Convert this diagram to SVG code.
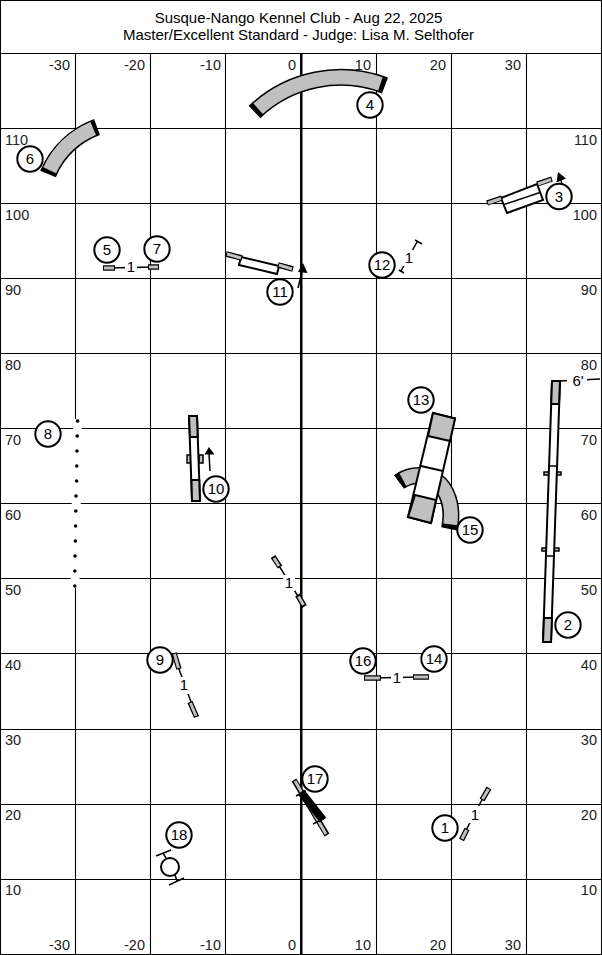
<svg xmlns="http://www.w3.org/2000/svg" width="602" height="955" viewBox="0 0 602 955">
<style>
text{font-family:"Liberation Sans",Arial,sans-serif;font-size:15px;fill:#000}
#labels text{font-size:14.5px;fill:#222}
.m{text-anchor:middle}.e{text-anchor:end}
.g{stroke:#000;stroke-width:1.1;fill:none}
.o{stroke:#000;stroke-width:2;fill:#fff}
.b{stroke:#000;stroke-width:2;fill:#c0c0c0}
.bar{stroke:#000;stroke-width:5.500;fill:none}
.barg{stroke:#c0c0c0;stroke-width:3;fill:none}
.tb{stroke:#000;stroke-width:17;fill:none}
.tg{stroke:#c0c0c0;stroke-width:14;fill:none}
.n{stroke:#000;stroke-width:2;fill:#fff}
.l{stroke:#000;stroke-width:1.5;fill:none}
.w{fill:#fff;stroke:none}
</style>
<rect width="602" height="955" fill="#fff"/>
<g id="grid">
<path class="g" d="M75.500 53V955M150.500 53V955M225.500 53V955M376.500 53V955M451.500 53V955M526.500 53V955M0 53.500H602M0 128.500H602M0 203.500H602M0 278.500H602M0 353.500H602M0 428.500H602M0 503.500H602M0 578.500H602M0 653.500H602M0 729.500H602M0 804.500H602M0 879.500H602"/>
<path d="M301.250 53V955" stroke="#000" stroke-width="2.500" fill="none"/>
<rect x=".5" y=".5" width="601" height="954" fill="none" stroke="#000"/>
</g>
<g id="title">
<text class="m" x="298.500" y="23">Susque-Nango Kennel Club - Aug 22, 2025</text>
<text class="m" x="298.500" y="40">Master/Excellent Standard - Judge: Lisa M. Selthofer</text>
</g>
<g id="labels">
<text class="e" x="70" y="70">-30</text><text class="e" x="145" y="70">-20</text><text class="e" x="221" y="70">-10</text><text class="e" x="296" y="70">0</text><text class="e" x="371" y="70">10</text><text class="e" x="446" y="70">20</text><text class="e" x="521" y="70">30</text>
<text class="e" x="70" y="950">-30</text><text class="e" x="145" y="950">-20</text><text class="e" x="221" y="950">-10</text><text class="e" x="296" y="950">0</text><text class="e" x="371" y="950">10</text><text class="e" x="446" y="950">20</text><text class="e" x="521" y="950">30</text>
<text x="5" y="145">110</text><text x="5" y="220">100</text><text x="5" y="295">90</text><text x="5" y="370">80</text><text x="5" y="445">70</text><text x="5" y="520">60</text><text x="5" y="595">50</text><text x="5" y="670">40</text><text x="5" y="745">30</text><text x="5" y="820">20</text><text x="5" y="895">10</text>
<text class="e" x="597" y="145">110</text><text class="e" x="597" y="220">100</text><text class="e" x="597" y="295">90</text><text class="e" x="597" y="370">80</text><text class="e" x="597" y="445">70</text><text class="e" x="597" y="520">60</text><text class="e" x="597" y="595">50</text><text class="e" x="597" y="670">40</text><text class="e" x="597" y="745">30</text><text class="e" x="597" y="820">20</text><text class="e" x="597" y="895">10</text>
</g>
<g id="connectors"></g>
<g id="tunnel-4"><path class="tb" d="M254.500 112A125 125 0 0 1 385 85.500"/><path class="tg" stroke-dasharray="0 3.500 93 100" pathLength="100" d="M254.500 112A125 125 0 0 1 385 85.500"/><circle class="n" cx="370" cy="105" r="12.700"/><text class="m" x="370" y="110">4</text></g>
<g id="tunnel-6"><path class="tb" d="M48 174A85 85 0 0 1 97 127"/><path class="tg" stroke-dasharray="0 6 88 100" pathLength="100" d="M48 174A85 85 0 0 1 97 127"/><circle class="n" cx="30" cy="159" r="12.700"/><text class="m" x="30" y="164">6</text></g>
<g id="weave-8">
<path d="M77.500 419L75 588" stroke="#fff" stroke-width="9" fill="none"/>
<g fill="#000"><circle cx="77.600" cy="421" r="1.800"/><circle cx="77.200" cy="436" r="1.800"/><circle cx="77" cy="451" r="1.800"/><circle cx="76.800" cy="466" r="1.800"/><circle cx="76.600" cy="481" r="1.800"/><circle cx="76" cy="496" r="1.800"/><circle cx="75.800" cy="511" r="1.800"/><circle cx="75.600" cy="526" r="1.800"/><circle cx="75.400" cy="541" r="1.800"/><circle cx="75" cy="556" r="1.800"/><circle cx="74.800" cy="571" r="1.800"/><circle cx="74.800" cy="586" r="1.800"/></g>
<circle class="n" cx="48" cy="434" r="12.700"/><text class="m" x="48" y="439">8</text></g>
<g id="tunnel-15"><path class="tb" d="M399 482C410 474 428 472 440 484C450 495 453 512 449.500 529"/><path class="tg" stroke-dasharray="0 5 90 100" pathLength="100" d="M399 482C410 474 428 472 440 484C450 495 453 512 449.500 529"/><circle class="n" cx="470" cy="530" r="12.700"/><text class="m" x="470" y="535">15</text></g>
<g id="aframe-13">
<polygon class="o" points="433,413 455,418.500 431,523 408,517"/>
<polygon class="b" points="433,413 455,418.500 450,441 428,436"/>
<polygon class="b" points="415,495 436,500 431,523 408,517"/>
<path class="o" d="M421 466L443 471"/>
<circle class="n" cx="421" cy="400" r="12.700"/><text class="m" x="421" y="405">13</text></g>
<g id="dogwalk-2">
<rect class="b" style="stroke-width:1.5" x="544" y="472" width="17" height="3"/><rect class="b" style="stroke-width:1.5" x="542" y="548" width="17" height="3"/>
<polygon class="o" points="552,381 560,381 551,642 543,642"/>
<polygon class="b" points="552,381 560,381 559,404 551.200,404"/>
<polygon class="b" points="544,618 552,618 551,642 543,642"/>
<path class="l" d="M550 466H558M547 556H555"/>
<path class="l" d="M560 381L600 379"/><rect class="w" x="567" y="372" width="20" height="16"/><text class="m" x="578" y="386">6'</text>
<circle class="n" cx="568" cy="625" r="12.700"/><text class="m" x="568" y="630">2</text></g>
<g id="tire-18"><circle class="n" cx="170" cy="867" r="9"/><path class="l" d="M156 856L171 850M163 853L166 858M169 885L184 878M175 875L177 881"/><circle class="n" cx="179" cy="835" r="12.700"/><text class="m" x="179" y="840">18</text></g>
<g id="wall-11"><polygon class="o" points="241,257 279,266 277,274 239,265"/><path class="bar" d="M226 254L242 258M278 265L293 269"/><path class="barg" d="M227 254L241 258M279 265L292 269"/><path class="l" d="M298 288L302 272"/><polygon points="303,263 307.500,273 298,272"/><circle class="n" cx="280" cy="292" r="12.700"/><text class="m" x="280" y="297">11</text></g>
<g id="wall-3"><path class="l" d="M563 190L561 180"/><polygon points="558,172 566,178.500 556.500,182.500"/><polygon class="o" points="501,198 537,184 543,200 507,213"/><path class="l" d="M504 204.500L540 192.500"/><path class="bar" d="M487 203L502 198M537 184L552 179"/><path class="barg" d="M488 203L501 198.500M538 184L551 179.500"/><circle class="n" cx="559" cy="196.500" r="12.700"/><text class="m" x="559" y="201.500">3</text></g>
<g id="jump-5-7"><path class="l" d="M109 268L153 267"/><rect class="w" x="125" y="258" width="12" height="18"/><text class="m" x="131" y="272">1</text><path class="bar" d="M103 268H115M148 267H159"/><path class="barg" d="M104 268H114M149 267H158"/><circle class="n" cx="107" cy="250" r="12.700"/><text class="m" x="107" y="255">5</text><circle class="n" cx="157" cy="249" r="12.700"/><text class="m" x="157" y="254">7</text></g>
<g id="jump-12"><path class="l" d="M401 271L417 242M415 240L422 244M399 270L404 273"/><rect class="w" x="403" y="250" width="12" height="16"/><text class="m" x="409" y="263">1</text><circle class="n" cx="382" cy="265" r="12.700"/><text class="m" x="382" y="270">12</text></g>
<g id="jump-center"><path class="l" d="M276 561L301 601"/><rect class="w" x="283" y="575" width="12" height="16"/><text class="m" x="289" y="588">1</text><path class="bar" d="M273 556.500L280 567M297.500 595L304.500 606.500"/><path class="barg" d="M274 558L279 566M298.500 596.500L303.500 605"/></g>
<g id="teeter-10"><rect class="b" style="stroke-width:1.5" x="187" y="455" width="4" height="8"/><rect class="b" style="stroke-width:1.5" x="199" y="455" width="4" height="8"/>
<polygon class="o" points="189,416 197,416 200,501 192,501"/><polygon class="b" points="189,416 197,416 197.700,437 190,437"/><polygon class="b" points="191.500,480 199.200,480 200,501 192,501"/>
<path class="l" d="M210 471L209 454"/><polygon points="209,447 214.500,454.500 204.500,454.500"/>
<circle class="n" cx="216" cy="489" r="12.700"/><text class="m" x="216" y="494">10</text></g>
<g id="jump-9"><path class="l" d="M176 661L194 710"/><rect class="w" x="178" y="677" width="12" height="17"/><text class="m" x="184" y="690">1</text><path class="bar" d="M174 653L179 669M190 702L196.500 717"/><path class="barg" d="M174.500 654L178.500 668M190.500 703L196 716"/><circle class="n" cx="160" cy="660" r="12.700"/><text class="m" x="160" y="665">9</text></g>
<g id="jump-16-14"><path class="l" d="M372 678L421 677"/><rect class="w" x="391" y="668" width="12" height="18"/><text class="m" x="397" y="683">1</text><path class="bar" d="M364 678H381M413 677H429"/><path class="barg" d="M365 678H380M414 677H428"/><circle class="n" cx="363" cy="661" r="12.700"/><text class="m" x="363" y="666">16</text><circle class="n" cx="434" cy="659" r="12.700"/><text class="m" x="434" y="664">14</text></g>
<g id="jump-17"><path class="bar" d="M294 780L327 835"/><path class="barg" d="M295 781L326 834"/><path d="M301 792L323 820" stroke="#000" stroke-width="8" fill="none"/><path class="l" d="M296 796L306 791M313 824L325 818"/><circle class="n" cx="315" cy="779" r="12.700"/><text class="m" x="315" y="784">17</text></g>
<g id="jump-1"><path class="l" d="M464 834L485 794"/><rect class="w" x="469" y="806" width="12" height="17"/><text class="m" x="475" y="820">1</text><path class="bar" d="M461.500 840L467 829M482 800L489 788"/><path class="barg" d="M462 839L466.500 830M482.500 799L488.500 789"/><circle class="n" cx="445" cy="828" r="12.700"/><text class="m" x="445" y="833">1</text></g>
</svg>
